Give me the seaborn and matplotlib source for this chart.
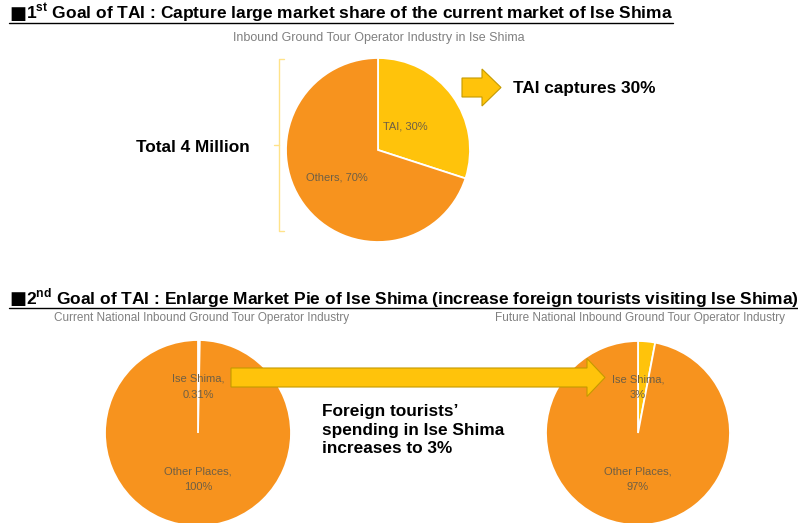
import matplotlib.pyplot as plt
import seaborn as sns
from matplotlib.patches import FancyArrow
from matplotlib.lines import Line2D

sns.set_style("white")
plt.rcParams['font.family'] = ['Liberation Sans', 'DejaVu Sans']
plt.rcParams['text.color'] = 'black'

# data
goal1_labels = ['TAI', 'Others']
goal1_values = [30, 70]
current_labels = ['Ise Shima', 'Other Places']
current_values = [0.31, 99.69]
current_text = ['0.31%', '100%']
future_labels = ['Ise Shima', 'Other Places']
future_values = [3, 97]
future_text = ['3%', '97%']

yellow = '#FFC30B'
orange = '#F7931E'
lab_col = '#6e5f45'
colors = [yellow, orange]

W, H = 798, 523
fig = plt.figure(figsize=(W / 100, H / 100), dpi=100)


def pie_axes(cx, cy, r):
    s = 2.5 * r
    return fig.add_axes([(cx - s / 2) / W, (H - cy - s / 2) / H, s / W, s / H])


def draw_pie(ax, vals):
    ax.pie(vals, colors=colors, startangle=90, counterclock=False,
           wedgeprops=dict(edgecolor='white', linewidth=1.3))
    ax.set_xlim(-1.25, 1.25)
    ax.set_ylim(-1.25, 1.25)


# pie 1
ax1 = pie_axes(378, 150, 92)
draw_pie(ax1, goal1_values)
ax1.text(0.30, 0.26, f'{goal1_labels[0]}, {goal1_values[0]}%', ha='center', va='center',
         fontsize=8, color=lab_col)
ax1.text(-0.45, -0.30, f'{goal1_labels[1]}, {goal1_values[1]}%', ha='center', va='center',
         fontsize=8, color=lab_col)

# pie 2 and 3
ax2 = pie_axes(198, 433, 93)
draw_pie(ax2, current_values)
ax3 = pie_axes(638, 433, 92)
draw_pie(ax3, future_values)
for ax, labs, txt in [(ax2, current_labels, current_text), (ax3, future_labels, future_text)]:
    ax.text(0, 0.5, f'{labs[0]},\n{txt[0]}', ha='center', va='center', fontsize=8,
            color=lab_col, linespacing=1.75)
    ax.text(0, -0.5, f'{labs[1]},\n{txt[1]}', ha='center', va='center', fontsize=8,
            color=lab_col, linespacing=1.75)

# overlay in pixel coordinates
ov = fig.add_axes([0, 0, 1, 1], zorder=5)
ov.set_xlim(0, W)
ov.set_ylim(H, 0)
ov.axis('off')
ov.patch.set_alpha(0)

ov.text(9, 19, '■', fontsize=13, va='baseline', ha='left', family='DejaVu Sans')
ov.text(9, 304, '■', fontsize=13, va='baseline', ha='left', family='DejaVu Sans')
t1 = ov.text(26, 19, r'1$^{\mathregular{st}}$ Goal of TAI : Capture large market share of the current market of Ise Shima',
             fontsize=12, fontweight='bold', va='baseline', ha='left')
t2 = ov.text(26, 304, r'2$^{\mathregular{nd}}$ Goal of TAI : Enlarge Market Pie of Ise Shima (increase foreign tourists visiting Ise Shima)',
             fontsize=12, fontweight='bold', va='baseline', ha='left')

ov.text(379, 38, 'Inbound Ground Tour Operator Industry in Ise Shima', fontsize=9,
        color='#808080', ha='center', va='center')
ov.text(202, 318, 'Current National Inbound Ground Tour Operator Industry', fontsize=8.5,
        color='#808080', ha='center', va='center')
ov.text(640, 318, 'Future National Inbound Ground Tour Operator Industry', fontsize=8.5,
        color='#808080', ha='center', va='center')

ov.text(136, 147, 'Total 4 Million', fontsize=12.4, fontweight='bold', va='center')
ov.text(513, 88, 'TAI captures 30%', fontsize=12.4, fontweight='bold', va='center')
ov.text(322, 430, "Foreign tourists’\nspending in Ise Shima\nincreases to 3%", fontsize=12.4,
        fontweight='bold', va='center', linespacing=1.3)

# bracket
bc = '#FFE38A'
ov.plot([284, 279, 279, 284], [59, 59, 231, 231], color=bc, lw=1)
ov.plot([274, 279], [145, 145], color=bc, lw=1)

# arrows
ov.add_patch(FancyArrow(462, 87.5, 39, 0, width=19, head_width=37, head_length=19,
                        length_includes_head=True, facecolor=yellow, edgecolor='#C49A00', lw=0.8))
ov.add_patch(FancyArrow(231, 377.5, 374, 0, width=19, head_width=38, head_length=18,
                        length_includes_head=True, facecolor=yellow, edgecolor='#C49A00', lw=0.8))

# fit title widths to the reference and underline them
inv = ov.transData.inverted()
for t, y, target in ((t1, 19, 646), (t2, 304, 771)):
    fig.canvas.draw()
    bb = t.get_window_extent()
    t.set_fontsize(t.get_fontsize() * target / bb.width)
    fig.canvas.draw()
    bb = t.get_window_extent()
    x1 = inv.transform((bb.x1, 0))[0]
    ov.add_line(Line2D([9, x1], [y + 4, y + 4], color='black', lw=1))

fig.savefig('out.png', dpi=100)
